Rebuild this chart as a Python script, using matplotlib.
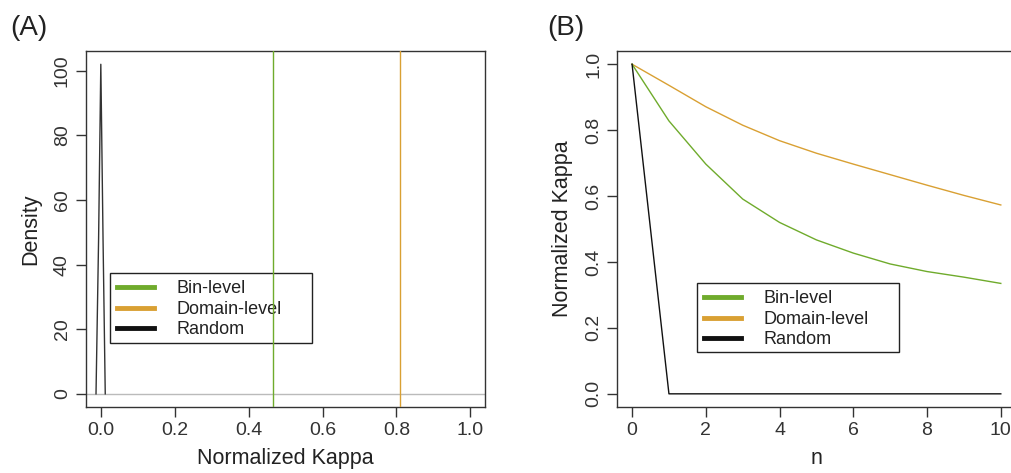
import matplotlib
matplotlib.use('Agg')
import matplotlib.pyplot as plt
from matplotlib.lines import Line2D
from matplotlib.patches import Rectangle

plt.rcParams['font.family'] = ['Liberation Sans', 'DejaVu Sans']

# panel A: density of random kappa + observed kappas
dens_x = [-0.013, -0.006, 0.0, 0.006, 0.012]
dens_y = [0.0, 48.0, 102.0, 48.0, 0.0]
kappa_bin = 0.465
kappa_domain = 0.81

# panel B: normalized kappa vs n
n = [0, 1, 2, 3, 4, 5, 6, 7, 8, 9, 10]
bin_level = [1.0, 0.828, 0.697, 0.591, 0.52, 0.467, 0.427, 0.394, 0.371, 0.354, 0.335]
domain_level = [1.0, 0.936, 0.871, 0.815, 0.768, 0.73, 0.697, 0.665, 0.633, 0.602, 0.573]
random_level = [1.0, 0.0, 0.0, 0.0, 0.0, 0.0, 0.0, 0.0, 0.0, 0.0, 0.0]

labels = ['Bin-level', 'Domain-level', 'Random']
green = '#6FAB2C'
orange = '#D9A033'
black = '#111111'

fig = plt.figure(figsize=(10.11, 4.73), dpi=100)
axA = fig.add_axes([0.0851, 0.1395, 0.3947, 0.7526])
axB = fig.add_axes([0.6106, 0.1395, 0.3939, 0.7526])

axA.axhline(0, color='#bbbbbb', lw=1.0)
axA.plot(dens_x, dens_y, color='#333333', lw=1.0)
axA.axvline(kappa_bin, color=green, lw=1.0, zorder=6)
axA.axvline(kappa_domain, color=orange, lw=1.0, zorder=6)
axA.set_xlim(-0.04, 1.04)
axA.set_ylim(-4.08, 106.1)
axA.set_xticks([0.0, 0.2, 0.4, 0.6, 0.8, 1.0])
axA.set_yticks([0, 20, 40, 60, 80, 100])
axA.set_xlabel('Normalized Kappa', fontsize=15.5, color='#222222')
axA.set_ylabel('Density', fontsize=15.5, color='#222222')

axB.plot(n, domain_level, color=orange, lw=1.0)
axB.plot(n, bin_level, color=green, lw=1.0)
axB.plot(n, random_level, color=black, lw=1.0)
axB.set_xlim(-0.4, 10.4)
axB.set_ylim(-0.04, 1.04)
axB.set_xticks([0, 2, 4, 6, 8, 10])
axB.set_yticks([0.0, 0.2, 0.4, 0.6, 0.8, 1.0])
axB.set_xlabel('n', fontsize=15.5, color='#222222')
axB.set_ylabel('Normalized Kappa', fontsize=15.5, color='#222222')

for ax in (axA, axB):
    for s in ax.spines.values():
        s.set_color('#333333')
        s.set_linewidth(1.0)
    ax.tick_params(direction='out', length=7, width=1.0, colors='#333333',
                   labelsize=14, labelcolor='#333333', pad=4)
    for lab in ax.get_yticklabels():
        lab.set_rotation(90)
        lab.set_va('center')
    ax.xaxis.labelpad = 6
    ax.yaxis.labelpad = 9

handles = [Line2D([], [], color=green, lw=3.5),
           Line2D([], [], color=orange, lw=3.5),
           Line2D([], [], color=black, lw=3.5)]

W, H = 1011.0, 473.0
# legend boxes (pixels: left, top, right, bottom), R-style, no fill
boxes = ((axA, (110, 273, 312, 343)), (axB, (697, 283, 899, 352)))
for ax, (x0, y0, x1, y1) in boxes:
    leg = ax.legend(handles, labels, loc='upper left',
                    bbox_to_anchor=(x0 / W, 1 - y0 / H),
                    bbox_transform=fig.transFigure, fontsize=13,
                    frameon=False, handlelength=2.05,
                    handletextpad=1.25, borderpad=0.4, labelspacing=0.2,
                    borderaxespad=0)
    for t in leg.get_texts():
        t.set_color('#222222')
    rect = Rectangle((x0 / W, 1 - y1 / H), (x1 - x0) / W, (y1 - y0) / H,
                     transform=fig.transFigure, facecolor='none',
                     edgecolor='#222222', lw=1.0, zorder=4)
    ax.add_artist(rect)
    rect.set_clip_on(False)
    leg.set_zorder(5)

fig.text(0.01, 0.925, '(A)', fontsize=20, color='#222222')
fig.text(0.541, 0.925, '(B)', fontsize=20, color='#222222')

fig.savefig('out.png', dpi=100)
